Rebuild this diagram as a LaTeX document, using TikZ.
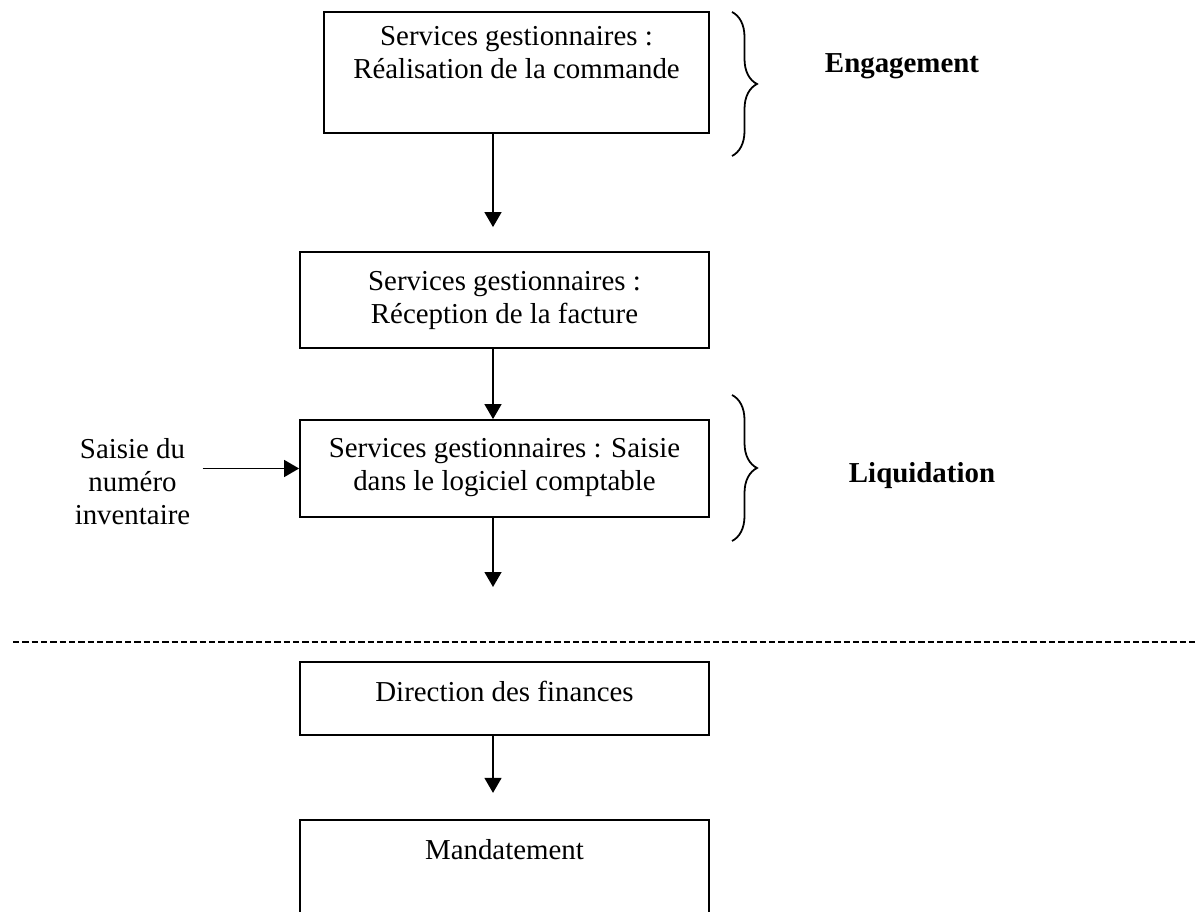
\documentclass[tikz,border=0pt]{standalone}
\usepackage{fontspec}
\setmainfont{Liberation Serif}
\usetikzlibrary{arrows.meta}
\usetikzlibrary{decorations.pathreplacing}
\tikzset{
box/.style={draw,line width=0.8pt,minimum width=184.05pt,inner sep=0pt},
txt/.style={align=center,inner sep=0pt,font=\fontsize{13}{14.85}\selectfont},
arr/.style={line width=0.8pt,-{Triangle[length=6.75pt,width=7.6pt]}},
brc/.style={line width=0.8pt,decorate,decoration={brace,amplitude=11.25pt}},
phase/.style={txt,font=\fontsize{13}{14.85}\selectfont\bfseries,anchor=base}
}

\begin{document}
\begin{tikzpicture}[x=0.45pt,y=-0.45pt]
\clip (0,0) rectangle (1197,912);
% boxes
\node[box,minimum width=173.25pt,minimum height=54.45pt] (b1) at (516.5,72.5) {};
\node[box,minimum height=43.2pt] (b2) at (504.5,300) {};
\node[box,minimum height=43.65pt] (b3) at (504.5,468.5) {};
\node[box,minimum height=32.85pt] (b4) at (504.5,698.5) {};
\node[box,minimum height=63.2pt] (b5) at (504.5,890) {};
% texts of the boxes
\node[txt,anchor=north] (t1) at (516.5,26) {Services gestionnaires :\\R\'ealisation de la commande};
\node[txt,anchor=north] (t2) at (504.5,271) {Services gestionnaires :\\R\'eception de la facture};
\node[txt,anchor=north] (t3) at (504.5,438) {Services gestionnaires : Saisie\\dans le logiciel comptable};
\node[txt,anchor=north] (t4) at (504.5,681) {Direction des finances};
\node[txt,anchor=north] (t5) at (504.5,839) {Mandatement};
\node[txt,anchor=north] (inv) at (132.5,438) {Saisie du\\num\'ero\\inventaire};
% arrows
\coordinate (ax) at (493,0);
\coordinate (out) at (493,587);
\draw[arr,shorten >=10.8pt] (b1.south -| ax) -- (b2.north -| ax);
\draw[arr] (b2.south -| ax) -- (b3.north -| ax);
\draw[arr] (b3.south -| ax) -- (out);
\draw[arr,shorten >=11.7pt] (b4.south -| ax) -- (b5.north -| ax);
\draw[arr,shorten <=5.4pt] (inv.east |- b3.west) -- (b3.west);
% braces
\draw[brc] (732,12) -- (732,156);
\draw[brc] (732,395) -- (732,541);
\node[phase] (eng) at (902,73) {Engagement};
\node[phase] (liq) at (922,482) {Liquidation};
% separation
\draw[line width=0.9pt,dash pattern=on 2.9pt off 1.3pt] (13,642) -- (1197,642);
\end{tikzpicture}
\end{document}
